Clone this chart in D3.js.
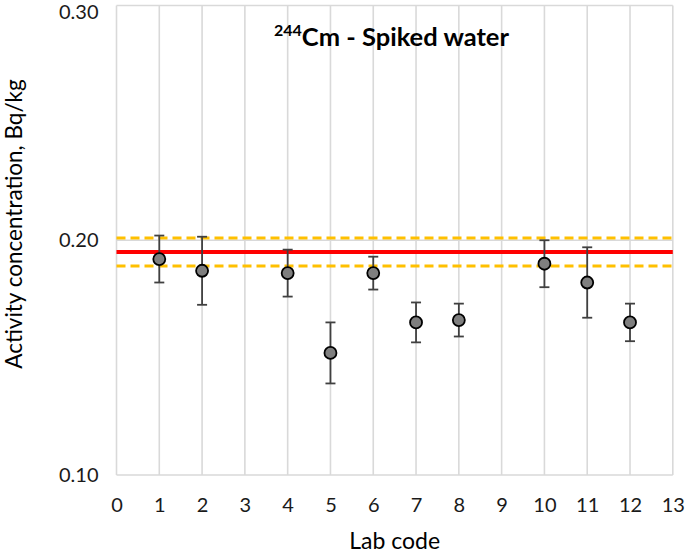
<!DOCTYPE html>
<html><head><meta charset="utf-8">
<script src="https://cdn.jsdelivr.net/npm/d3@7"></script>
<style>body{margin:0;background:#fff;} text{font-family:Lato,"Open Sans",sans-serif;}</style>
</head><body>
<svg id="c" width="685" height="553"></svg>
<script>
const labCodes = [1, 2, 4, 5, 6, 7, 8, 10, 11, 12];
const values   = [0.192, 0.187, 0.186, 0.152, 0.186, 0.165, 0.166, 0.190, 0.182, 0.165];
const uncerts  = [0.010, 0.0145, 0.010, 0.013, 0.007, 0.0085, 0.007, 0.010, 0.015, 0.008];
const refValue = 0.195;
const refUnc = 0.006;
const xTicks = [0,1,2,3,4,5,6,7,8,9,10,11,12,13];
const yTicks = [0.10, 0.20, 0.30];

const svg = d3.select("#c");
const L = 116.5, R = 672.8, T = 5.5, B = 475;
const x = d3.scaleLinear().domain([0,13]).range([L,R]);
const y = d3.scaleLinear().domain([0.10,0.30]).range([B,T]);
const grid = "#d9d9d9";
const font = "Lato, 'Open Sans', sans-serif";

// vertical gridlines
svg.append("g").selectAll("line").data(xTicks).join("line")
  .attr("x1", d=>x(d)).attr("x2", d=>x(d)).attr("y1", T).attr("y2", B)
  .attr("stroke", grid).attr("stroke-width", 1.6);
// horizontal gridlines
svg.append("g").selectAll("line").data(yTicks).join("line")
  .attr("x1", L).attr("x2", R).attr("y1", d=>y(d)).attr("y2", d=>y(d))
  .attr("stroke", grid).attr("stroke-width", 1.6);

// axes labels via d3 axes
const xAxis = svg.append("g").attr("transform", `translate(0,${B})`)
  .call(d3.axisBottom(x).tickValues(xTicks).tickSize(0).tickPadding(23).tickFormat(d3.format("d")));
xAxis.select(".domain").remove();
xAxis.selectAll("text").attr("font-size", 20).attr("fill", "#1a1a1a").attr("font-family", font);

const yAxis = svg.append("g").attr("transform", `translate(${L},0)`)
  .call(d3.axisLeft(y).tickValues(yTicks).tickSize(0).tickPadding(18).tickFormat(d3.format(".2f")));
yAxis.select(".domain").remove();
yAxis.selectAll("text").attr("font-size", 20).attr("fill", "#1a1a1a").attr("font-family", font);
// keep the top label inside the page
yAxis.selectAll("text").filter(d=>d===0.30).attr("dy", "0.65em");

// reference lines
svg.append("line").attr("x1", L).attr("x2", R)
  .attr("y1", y(refValue+refUnc)).attr("y2", y(refValue+refUnc))
  .attr("stroke", "#ffc000").attr("stroke-width", 3).attr("stroke-dasharray", "9,5");
svg.append("line").attr("x1", L).attr("x2", R)
  .attr("y1", y(refValue-refUnc)).attr("y2", y(refValue-refUnc))
  .attr("stroke", "#ffc000").attr("stroke-width", 3).attr("stroke-dasharray", "9,5");
svg.append("line").attr("x1", L).attr("x2", R)
  .attr("y1", y(refValue)).attr("y2", y(refValue))
  .attr("stroke", "#ff0000").attr("stroke-width", 4);

const data = labCodes.map((c,i)=>({c, v: values[i], u: uncerts[i]}));
const eb = svg.append("g").attr("stroke", "#404040").attr("stroke-width", 1.8);
eb.selectAll(".v").data(data).join("line")
  .attr("x1", d=>x(d.c)).attr("x2", d=>x(d.c))
  .attr("y1", d=>y(d.v+d.u)).attr("y2", d=>y(d.v-d.u));
eb.selectAll(".t").data(data).join("line")
  .attr("x1", d=>x(d.c)-5).attr("x2", d=>x(d.c)+5)
  .attr("y1", d=>y(d.v+d.u)).attr("y2", d=>y(d.v+d.u));
eb.selectAll(".b").data(data).join("line")
  .attr("x1", d=>x(d.c)-5).attr("x2", d=>x(d.c)+5)
  .attr("y1", d=>y(d.v-d.u)).attr("y2", d=>y(d.v-d.u));

svg.append("g").selectAll("circle").data(data).join("circle")
  .attr("cx", d=>x(d.c)).attr("cy", d=>y(d.v)).attr("r", 6)
  .attr("fill", "#7f7f7f").attr("stroke", "#000").attr("stroke-width", 1.8);

// title
const title = svg.append("text").attr("x", 391.5).attr("y", 46).attr("text-anchor", "middle")
  .attr("font-size", 25.5).attr("font-weight", "bold").attr("fill", "#000");
title.append("tspan").attr("font-size", 16).attr("dy", -10).text("244");
title.append("tspan").attr("dy", 10).text("Cm - Spiked water");

// axis titles
svg.append("text").attr("x", (L+R)/2).attr("y", 549).attr("text-anchor", "middle")
  .attr("font-size", 23).attr("fill", "#000").text("Lab code");
svg.append("text").attr("transform", "translate(22,224) rotate(-90)").attr("text-anchor", "middle")
  .attr("font-size", 22.5).attr("fill", "#000").text("Activity concentration, Bq/kg");
</script>
</body></html>
